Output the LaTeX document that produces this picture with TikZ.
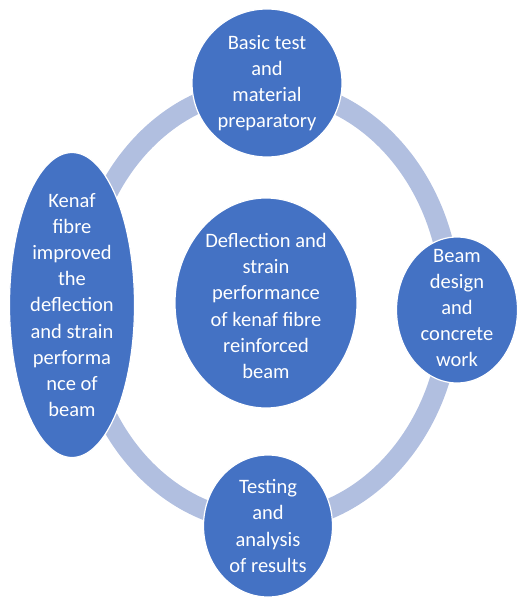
\documentclass[tikz,border=0pt]{standalone}
\usepackage{fontspec}
\setmainfont{Carlito}
\usetikzlibrary{shapes.geometric}
\definecolor{bluFase}{HTML}{4472C4}
\definecolor{bluAnello}{HTML}{B1BFE0}
\begin{document}
\begin{tikzpicture}[x=1pt,y=-1pt,
				fase/.style={ellipse, fill=bluFase, draw=white, line width=1.2pt, inner sep=0pt},
				testo/.style={text=white, align=center, inner sep=0pt,
					font=\fontsize{20.5}{26.2}\selectfont},
				anello/.style={draw=bluAnello, line width=20pt},
				]
				% ── Riquadro della figura ──
				\useasboundingbox (0,0) rectangle (517,599);
				% ── Anello di fondo ──
				\draw[anello] (266,305) ellipse (185pt and 217pt);
				% ── Fasi sull'anello ──
				\node[fase, minimum width=150pt, minimum height=148pt] (prove) at (267,83) {};
				\node[fase, minimum width=121pt, minimum height=146pt] (progetto) at (457,310) {};
				\node[fase, minimum width=129pt, minimum height=142pt] (analisi) at (268,526) {};
				\node[fase, minimum width=125pt, minimum height=305pt] (esito) at (72,305) {};
				% ── Nucleo centrale ──
				\node[fase, minimum width=182pt, minimum height=210pt] (nucleo) at (266,303) {};
				% ── Testi ──
				\node[testo] (prove-t) at (prove) {Basic test\\and\\material\\preparatory};
				\node[testo] (progetto-t) at (457,308) {Beam\\design\\and\\concrete\\work};
				\node[testo] (analisi-t) at (analisi) {Testing\\and\\analysis\\of results};
				\node[testo] (esito-t) at (esito) {Kenaf\\fibre\\improved\\the\\deflection\\and strain\\performa\\nce of\\beam};
				\node[testo] (nucleo-t) at (266,306) {Deflection and\\strain\\performance\\of kenaf fibre\\reinforced\\beam};
			\end{tikzpicture}
\end{document}
